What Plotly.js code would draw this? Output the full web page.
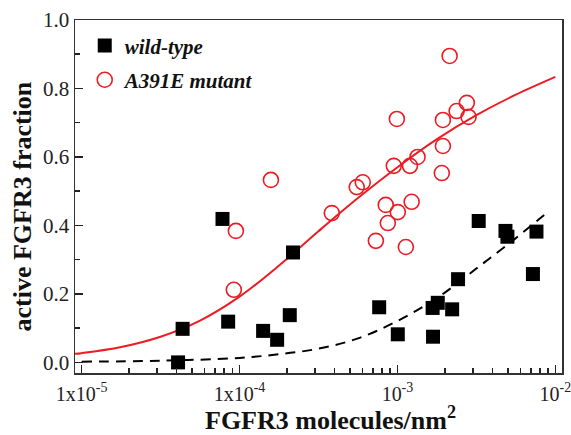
<!DOCTYPE html>
<html>
<head>
<meta charset="utf-8">
<script src="https://cdn.plot.ly/plotly-3.0.1.min.js"></script>
<style>html,body{margin:0;padding:0;background:#fff;}#chart{width:571px;height:435px;}</style>
</head>
<body>
<div id="chart"></div>
<script>
// ---- data ----
const wildX = [4.08e-5, 4.36e-5, 7.80e-5, 8.47e-5, 1.41e-4, 1.73e-4, 2.08e-4, 2.18e-4, 7.66e-4, 1.005e-3,
               1.68e-3, 1.67e-3, 1.80e-3, 2.22e-3, 2.42e-3, 3.27e-3, 4.83e-3, 4.97e-3, 7.59e-3, 7.21e-3];
const wildY = [0.0, 0.098, 0.419, 0.119, 0.092, 0.066, 0.138, 0.321, 0.161, 0.082,
               0.075, 0.159, 0.174, 0.155, 0.243, 0.413, 0.384, 0.367, 0.382, 0.258];

const mutX = [9.48e-5, 9.20e-5, 1.58e-4, 3.84e-4, 5.52e-4, 6.03e-4, 7.30e-4, 8.43e-4, 8.69e-4, 1.005e-3,
              9.91e-4, 9.48e-4, 1.13e-3, 1.20e-3, 1.23e-3, 1.34e-3, 1.91e-3, 1.94e-3, 1.94e-3, 2.14e-3,
              2.37e-3, 2.75e-3, 2.82e-3];
const mutY = [0.384, 0.212, 0.533, 0.436, 0.512, 0.526, 0.355, 0.460, 0.407, 0.439,
              0.711, 0.574, 0.337, 0.574, 0.469, 0.600, 0.553, 0.632, 0.708, 0.895,
              0.734, 0.758, 0.717];

// fitted curves (quarter-decade steps)
const mutFitX = [9.08e-6, 1e-5, 1.78e-5, 3.16e-5, 5.62e-5, 1e-4, 1.78e-4, 3.16e-4, 5.62e-4, 1e-3,
                 1.78e-3, 3.16e-3, 5.62e-3, 1e-2];
const mutFitY = [0.025, 0.027, 0.045, 0.075, 0.122, 0.192, 0.283, 0.383, 0.480, 0.570,
                 0.652, 0.722, 0.782, 0.834];

const wildFitX = [1e-5, 3.16e-5, 1e-4, 1.78e-4, 3.16e-4, 5.62e-4, 1e-3, 1.78e-3, 3.16e-3, 5.62e-3, 8.77e-3];
const wildFitY = [0.002, 0.005, 0.013, 0.024, 0.040, 0.070, 0.121, 0.188, 0.274, 0.363, 0.436];

const xTickVals = [1e-5, 1e-4, 1e-3, 1e-2];
const xTickText = ['1x10<sup>-5</sup>', '1x10<sup>-4</sup>', '10<sup>-3</sup>', '10<sup>-2</sup>'];
const yTickVals = [0, 0.2, 0.4, 0.6, 0.8, 1.0];
const yTickText = ['0.0', '0.2', '0.4', '0.6', '0.8', '1.0'];
const yMinorVals = [0.1, 0.3, 0.5, 0.7, 0.9];
const xMinorMantissa = [2, 3, 4, 5, 6, 7, 8, 9];
const xMinorDecades = [1e-6, 1e-5, 1e-4, 1e-3];

const RED = '#ec1c24';
const FONT = 'Liberation Serif, Times New Roman, serif';
const XRANGE = [-5.042, -1.958];
const YRANGE = [-0.031, 1.0];

const xMinorVals = [];
xMinorDecades.forEach(d => xMinorMantissa.forEach(m => xMinorVals.push(m * d)));

const traces = [
  { x: mutFitX, y: mutFitY, mode: 'lines', line: { color: RED, width: 2, shape: 'spline', smoothing: 1 },
    showlegend: false, hoverinfo: 'skip' },
  { x: wildFitX, y: wildFitY, mode: 'lines', line: { color: '#000', width: 2, dash: '10px,7px', shape: 'spline', smoothing: 1 },
    showlegend: false, hoverinfo: 'skip' },
  { x: wildX, y: wildY, mode: 'markers', name: 'wild-type', legendgroup: 'a',
    marker: { symbol: 'square', size: 14, color: '#000' } },
  { x: mutX, y: mutY, mode: 'markers', name: 'A391E mutant', legendgroup: 'b',
    marker: { symbol: 'circle-open', size: 15, color: RED, line: { color: RED, width: 1.6 } } },
  // carrier for the minor-tick overlay axes (draws nothing: y is null)
  { x: [1e-5], y: [null], xaxis: 'x2', yaxis: 'y2', mode: 'markers', showlegend: false, hoverinfo: 'skip',
    marker: { opacity: 0 } }
];

const layout = {
  width: 571, height: 435,
  margin: { l: 75, r: 9, t: 20, b: 62 },
  paper_bgcolor: '#fff', plot_bgcolor: '#fff',
  font: { family: FONT, color: '#111' },
  xaxis: {
    type: 'log', range: XRANGE, autorange: false,
    showgrid: false, zeroline: false, showline: true, linecolor: '#333', linewidth: 1.5, mirror: true,
    ticks: 'inside', ticklen: 8, tickwidth: 1.5, tickcolor: '#222',
    tickmode: 'array', tickvals: xTickVals, ticktext: xTickText, ticklabelstandoff: 2,
    ticklabeloverflow: 'allow',
    tickfont: { family: FONT, size: 20, color: '#222' }
  },
  yaxis: {
    range: YRANGE, autorange: false,
    showgrid: false, zeroline: false, showline: true, linecolor: '#333', linewidth: 1.5, mirror: true,
    ticks: 'inside', ticklen: 8, tickwidth: 1.5, tickcolor: '#222',
    tickmode: 'array', tickvals: yTickVals, ticktext: yTickText,
    tickfont: { family: FONT, size: 21, color: '#222' }
  },
  xaxis2: {
    type: 'log', range: XRANGE, autorange: false, overlaying: 'x', anchor: 'y', side: 'bottom',
    showgrid: false, zeroline: false, showline: false, showticklabels: false,
    ticks: 'inside', ticklen: 5, tickwidth: 1.5, tickcolor: '#222',
    tickmode: 'array', tickvals: xMinorVals
  },
  yaxis2: {
    range: YRANGE, autorange: false, overlaying: 'y', anchor: 'x', side: 'left',
    showgrid: false, zeroline: false, showline: false, showticklabels: false,
    ticks: 'inside', ticklen: 5, tickwidth: 1.5, tickcolor: '#222',
    tickmode: 'array', tickvals: yMinorVals
  },
  showlegend: true,
  legend: {
    x: 0.02, y: 0.985, xanchor: 'left', yanchor: 'top',
    bgcolor: 'rgba(0,0,0,0)', borderwidth: 0,
    traceorder: 'grouped', tracegroupgap: 4,
    font: { family: FONT, size: 21, color: '#111', weight: 'bold', style: 'italic' }
  },
  annotations: [
    { text: '<b>FGFR3 molecules/nm<sup>2</sup></b>', xref: 'paper', yref: 'paper',
      x: 0.524, y: -0.130, xanchor: 'center', yanchor: 'middle', showarrow: false,
      font: { family: FONT, size: 26, color: '#111' } },
    { text: '<b>active FGFR3 fraction</b>', xref: 'paper', yref: 'paper', textangle: -90,
      x: -0.1088, y: 0.4717, xanchor: 'center', yanchor: 'middle', showarrow: false,
      font: { family: FONT, size: 26, color: '#111' } }
  ]
};

Plotly.newPlot('chart', traces, layout, { displayModeBar: false, staticPlot: true });
</script>
</body>
</html>
